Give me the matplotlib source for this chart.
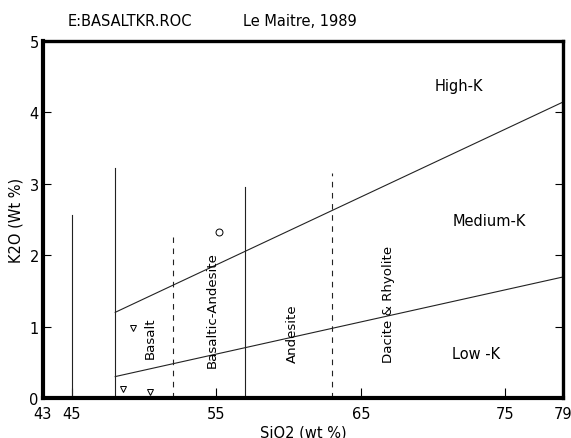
import matplotlib
matplotlib.use("Agg")
import matplotlib.pyplot as plt

plt.rcParams['font.family'] = ['DejaVu Sans']

# Classification boundaries (Le Maitre, 1989)
solid_x = [45, 48, 57]
solid_top = [2.57, 3.22, 2.96]
dashed_x = [52, 63]
dashed_top = [2.25, 3.15]
highk_x = [48, 79]
highk_y = [1.2, 4.145]
lowk_x = [48, 79]
lowk_y = [0.3, 1.695]

# Samples
tri_x = [49.25, 48.56, 50.44]
tri_y = [0.98, 0.12, 0.09]
circ_x = [55.2]
circ_y = [2.32]

x_ticks = [43, 45, 55, 65, 75, 79]
y_ticks = [0, 1, 2, 3, 4, 5]

rock_labels = ["Basalt", "Basaltic-Andesite", "Andesite", "Dacite & Rhyolite"]
rock_label_x = [50.4, 54.7, 60.3, 66.9]
rock_label_y = [0.85, 1.25, 0.92, 1.32]
series_labels = ["High-K", "Medium-K", "Low -K"]
series_label_x = [71.8, 73.9, 73.0]
series_label_y = [4.37, 2.49, 0.63]

fig = plt.figure(figsize=(5.71, 4.39), dpi=100)
ax = fig.add_axes([43/571, 1-399/439, 520/571, 357/439])
ax.set_xlim(43, 79)
ax.set_ylim(0, 5)

lc = '#222222'
for x, t in zip(solid_x, solid_top):
    ax.plot([x, x], [0, t], color=lc, lw=0.8)
for x, t in zip(dashed_x, dashed_top):
    ax.plot([x, x], [0, t], color=lc, lw=0.8, dashes=(5, 5))
ax.plot(highk_x, highk_y, color=lc, lw=0.8)
ax.plot(lowk_x, lowk_y, color=lc, lw=0.8)

ax.plot(tri_x, tri_y, linestyle='none', marker='v', ms=4.5, mfc='white', mec='black', mew=0.7)
ax.plot(circ_x, circ_y, linestyle='none', marker='o', ms=5, mfc='white', mec='black', mew=0.7)

for s, x, y in zip(rock_labels, rock_label_x, rock_label_y):
    ax.text(x, y, s, rotation=90, ha='center', va='center', fontsize=9.6)
for s, x, y in zip(series_labels, series_label_x, series_label_y):
    ax.text(x, y, s, ha='center', va='center', fontsize=10.5)

for side in ['left', 'bottom']:
    ax.spines[side].set_linewidth(3)
for side in ['top', 'right']:
    ax.spines[side].set_linewidth(2.4)

ax.set_xticks(x_ticks)
ax.set_xticklabels([str(v) for v in x_ticks])
ax.set_yticks(y_ticks)
ax.set_yticklabels([str(v) for v in y_ticks])
ax.tick_params(axis='x', direction='in', length=7, width=0.8, labelsize=10.5, pad=6)
ax.tick_params(axis='y', direction='in', length=6, width=0.8, labelsize=10.5, pad=3, right=True)

ax.set_xlabel("SiO2 (wt %)", fontsize=10.5, labelpad=2)
ax.set_ylabel("K2O (Wt %)", fontsize=10.5, labelpad=4)

fig.text(68/571, 1-22/439, "E:BASALTKR.ROC", fontsize=10.5, va='center', ha='left')
fig.text(243/571, 1-22/439, "Le Maitre, 1989", fontsize=10.5, va='center', ha='left')

fig.savefig("out.png", dpi=100)
